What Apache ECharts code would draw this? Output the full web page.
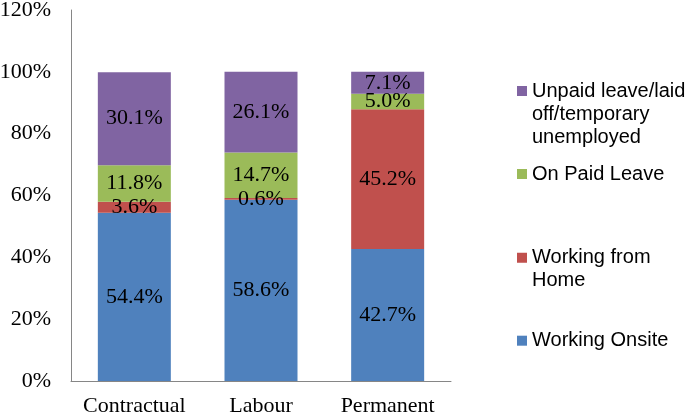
<!DOCTYPE html>
<html>
<head>
<meta charset="utf-8">
<script src="https://cdn.jsdelivr.net/npm/echarts@6/dist/echarts.min.js"></script>
<style>html,body{margin:0;padding:0;background:#fff}#c{width:688px;height:417px}</style>
</head>
<body>
<div id="c"></div>
<script>
const categories = ['Contractual', 'Labour', 'Permanent'];
const seriesNames = ['Working Onsite', 'Working from Home', 'On Paid Leave', 'Unpaid leave/laid off/temporary unemployed'];
const onsite = [54.4, 58.6, 42.7];
const fromHome = [3.6, 0.6, 45.2];
const paidLeave = [11.8, 14.7, 5.0];
const unpaid = [30.1, 26.1, 7.1];
const yTicks = [0, 20, 40, 60, 80, 100, 120];
const colors = ['#4F81BD', '#C0504D', '#9BBB59', '#8064A2'];

const serif = '"Liberation Serif", "Times New Roman", serif';
const sans = '"Liberation Sans", Arial, sans-serif';
const values = [onsite, fromHome, paidLeave, unpaid];

const chart = echarts.init(document.getElementById('c'), null, {renderer: 'canvas'});

function legendFor(name, top, h, label) {
  const icon = h > 10
    ? 'path://M0,0h10v10h-10z M0,' + h + 'h0.01v0.01h-0.01z'
    : 'rect';
  return {
    data: [name],
    left: 517,
    top: top,
    padding: 0,
    orient: 'vertical',
    itemWidth: 10,
    itemHeight: h,
    icon: icon,
    selectedMode: false,
    formatter: () => label,
    textStyle: {fontFamily: sans, fontSize: 20, color: '#000', lineHeight: 23}
  };
}

chart.setOption({
  animation: false,
  color: colors,
  grid: {left: 71, top: 10, right: 237, bottom: 36, containLabel: false, outerBoundsMode: 'none'},
  legend: [
    legendFor(seriesNames[3], 79.5, 56, 'Unpaid leave/laid\noff/temporary\nunemployed'),
    legendFor(seriesNames[2], 162.5, 10, 'On Paid Leave'),
    legendFor(seriesNames[1], 246.2, 33, 'Working from\nHome'),
    legendFor(seriesNames[0], 329.2, 10, 'Working Onsite')
  ],
  xAxis: {
    type: 'category',
    data: categories,
    axisLine: {lineStyle: {color: '#868686', width: 1}},
    axisTick: {show: false},
    axisLabel: {fontFamily: serif, fontSize: 22, color: '#000', margin: 14, interval: 0, hideOverlap: false}
  },
  yAxis: {
    type: 'value',
    min: yTicks[0],
    max: yTicks[yTicks.length - 1],
    interval: yTicks[1] - yTicks[0],
    axisLine: {show: true, lineStyle: {color: '#868686', width: 1}},
    axisTick: {show: false},
    splitLine: {show: false},
    axisLabel: {fontFamily: serif, fontSize: 22, color: '#000', margin: 20, formatter: '{value}%'}
  },
  series: seriesNames.map((n, i) => ({
    name: n,
    type: 'bar',
    stack: 'total',
    barWidth: 73,
    data: values[i],
    itemStyle: {color: colors[i]},
    label: {
      show: true,
      position: 'inside',
      fontFamily: serif,
      fontSize: 22,
      color: '#000',
      formatter: p => p.value.toFixed(1) + '%'
    }
  }))
});
</script>
</body>
</html>
